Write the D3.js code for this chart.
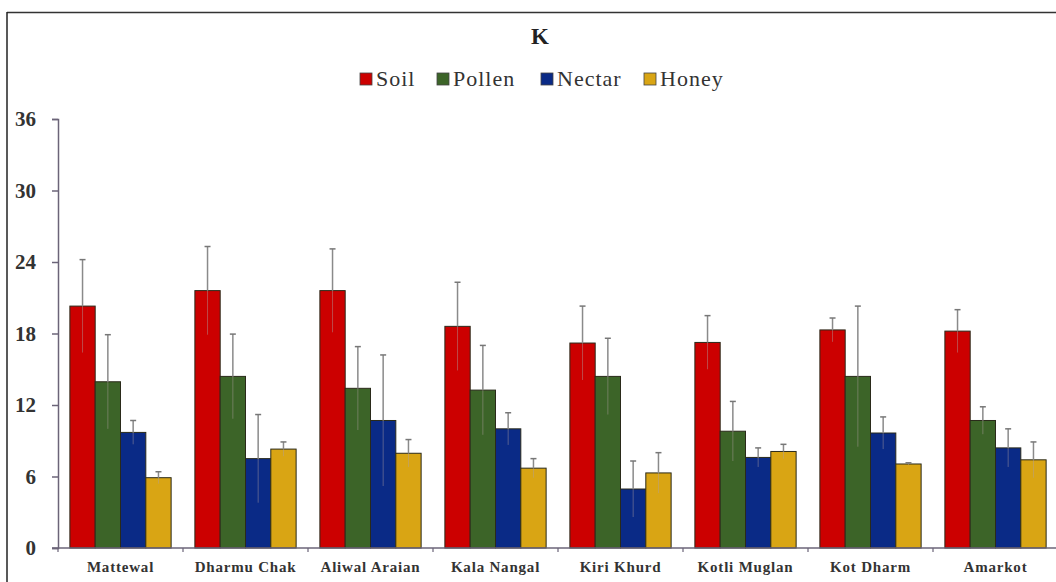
<!DOCTYPE html>
<html><head><meta charset="utf-8">
<script src="https://cdn.jsdelivr.net/npm/d3@7"></script>
<style>body{margin:0;background:#fff}svg{display:block}</style>
</head><body>
<script>
const categories = ["Mattewal","Dharmu Chak","Aliwal Araian","Kala Nangal","Kiri Khurd","Kotli Muglan","Kot Dharm","Amarkot"];
const seriesNames = ["Soil","Pollen","Nectar","Honey"];
const soil   = [20.3, 21.6, 21.6, 18.6, 17.2, 17.25, 18.3, 18.2];
const pollen = [13.95, 14.4, 13.4, 13.25, 14.4, 9.8, 14.4, 10.7];
const nectar = [9.7, 7.5, 10.7, 10.0, 4.95, 7.6, 9.65, 8.4];
const honey  = [5.9, 8.3, 7.95, 6.7, 6.3, 8.1, 7.05, 7.4];
const soilErr   = [3.9, 3.7, 3.5, 3.7, 3.1, 2.25, 1.0, 1.8];
const pollenErr = [3.95, 3.55, 3.5, 3.75, 3.2, 2.5, 5.9, 1.15];
const nectarErr = [1.0, 3.7, 5.5, 1.35, 2.35, 0.8, 1.35, 1.6];
const honeyErr  = [0.5, 0.6, 1.15, 0.8, 1.7, 0.6, 0.1, 1.5];
const yTicks = [0, 6, 12, 18, 24, 30, 36];
const colors = ["#cc0000", "#3c6428", "#0a2a86", "#d9a514"];

const values = [soil, pollen, nectar, honey];
const errs = [soilErr, pollenErr, nectarErr, honeyErr];

const W = 1056, H = 582;
const svg = d3.select("body").append("svg").attr("width", W).attr("height", H);
const serif = "'Liberation Serif','Times New Roman',serif";

// frame
svg.append("line").attr("x1",7).attr("x2",1056).attr("y1",12.5).attr("y2",12.5).attr("stroke","#333").attr("stroke-width",1.5);
svg.append("line").attr("x1",7).attr("x2",7).attr("y1",12).attr("y2",582).attr("stroke","#222").attr("stroke-width",1.5);

const pLeft = 58, pRight = 1058, pTop = 119, pBottom = 548;
const x0 = d3.scaleBand().domain(categories).range([pLeft, pRight]).paddingInner(0.19).paddingOuter(0.095);
const x1 = d3.scaleBand().domain(seriesNames).range([0, x0.bandwidth()]);
const y = d3.scaleLinear().domain([0, 36]).range([pBottom, pTop]);

// title
svg.append("text").attr("x", 540).attr("y", 44).attr("text-anchor","middle")
  .style("font-family", serif).style("font-weight","bold").style("font-size","23px").attr("fill","#222").text("K");

// legend
const legX = [360, 437, 541, 644];
const leg = svg.append("g");
seriesNames.forEach((s,i)=>{
  leg.append("rect").attr("x", legX[i]).attr("y", 73).attr("width", 12).attr("height", 12)
    .attr("fill", colors[i]).attr("stroke","#444").attr("stroke-width",0.8);
  leg.append("text").attr("x", legX[i]+16).attr("y", 86).style("font-family", serif)
    .style("font-size","22px").style("letter-spacing","1px").attr("fill","#333").text(s);
});

// bars
const g = svg.append("g");
categories.forEach((c,ci)=>{
  seriesNames.forEach((s,si)=>{
    const v = values[si][ci];
    g.append("rect").attr("x", x0(c)+x1(s)).attr("y", y(v))
      .attr("width", x1.bandwidth()).attr("height", y(0)-y(v))
      .attr("fill", colors[si]).attr("stroke","#2a2a1a").attr("stroke-width",1);
  });
});
// error bars
categories.forEach((c,ci)=>{
  seriesNames.forEach((s,si)=>{
    const v = values[si][ci], e = errs[si][ci];
    const cx = x0(c)+x1(s)+x1.bandwidth()/2;
    g.append("line").attr("x1",cx).attr("x2",cx).attr("y1",y(v)).attr("y2",y(v+e))
      .attr("stroke","#8a8a8a").attr("stroke-width",1.5);
    g.append("line").attr("x1",cx).attr("x2",cx).attr("y1",y(v)).attr("y2",y(Math.max(0,v-e)))
      .attr("stroke","#b0a0a0").attr("stroke-width",1).attr("opacity",0.45);
    g.append("line").attr("x1",cx-3).attr("x2",cx+3).attr("y1",y(v+e)).attr("y2",y(v+e))
      .attr("stroke","#777").attr("stroke-width",1.5);
  });
});

// y axis
const yAxis = svg.append("g").attr("transform",`translate(${pLeft},0)`)
  .call(d3.axisLeft(y).tickValues(yTicks).tickSize(6).tickPadding(16));
yAxis.select(".domain").attr("stroke","#6b6478").attr("stroke-width",1.5);
yAxis.selectAll(".tick line").attr("stroke","#6b6478").attr("stroke-width",1.5);
yAxis.selectAll("text").style("font-family", serif).style("font-weight","bold")
  .style("font-size","21px").attr("fill","#333");

// x axis
const xAxis = svg.append("g").attr("transform",`translate(0,${pBottom})`)
  .call(d3.axisBottom(x0).tickSize(0).tickPadding(13));
xAxis.select(".domain").attr("stroke","#6b6478").attr("stroke-width",1.5).attr("d", `M${pLeft-6},0H${pRight}`);
xAxis.selectAll("text").style("font-family", serif).style("font-weight","bold")
  .style("font-size","15px").style("letter-spacing","0.8px").attr("fill","#333");
// category boundary ticks
const bounds = categories.map((c,i)=> pLeft + i*(pRight-pLeft)/categories.length);
svg.append("g").selectAll("line").data(bounds).join("line")
  .attr("x1",d=>d).attr("x2",d=>d).attr("y1",pBottom).attr("y2",pBottom+4)
  .attr("stroke","#6b6478").attr("stroke-width",1.2);
</script>
</body></html>
